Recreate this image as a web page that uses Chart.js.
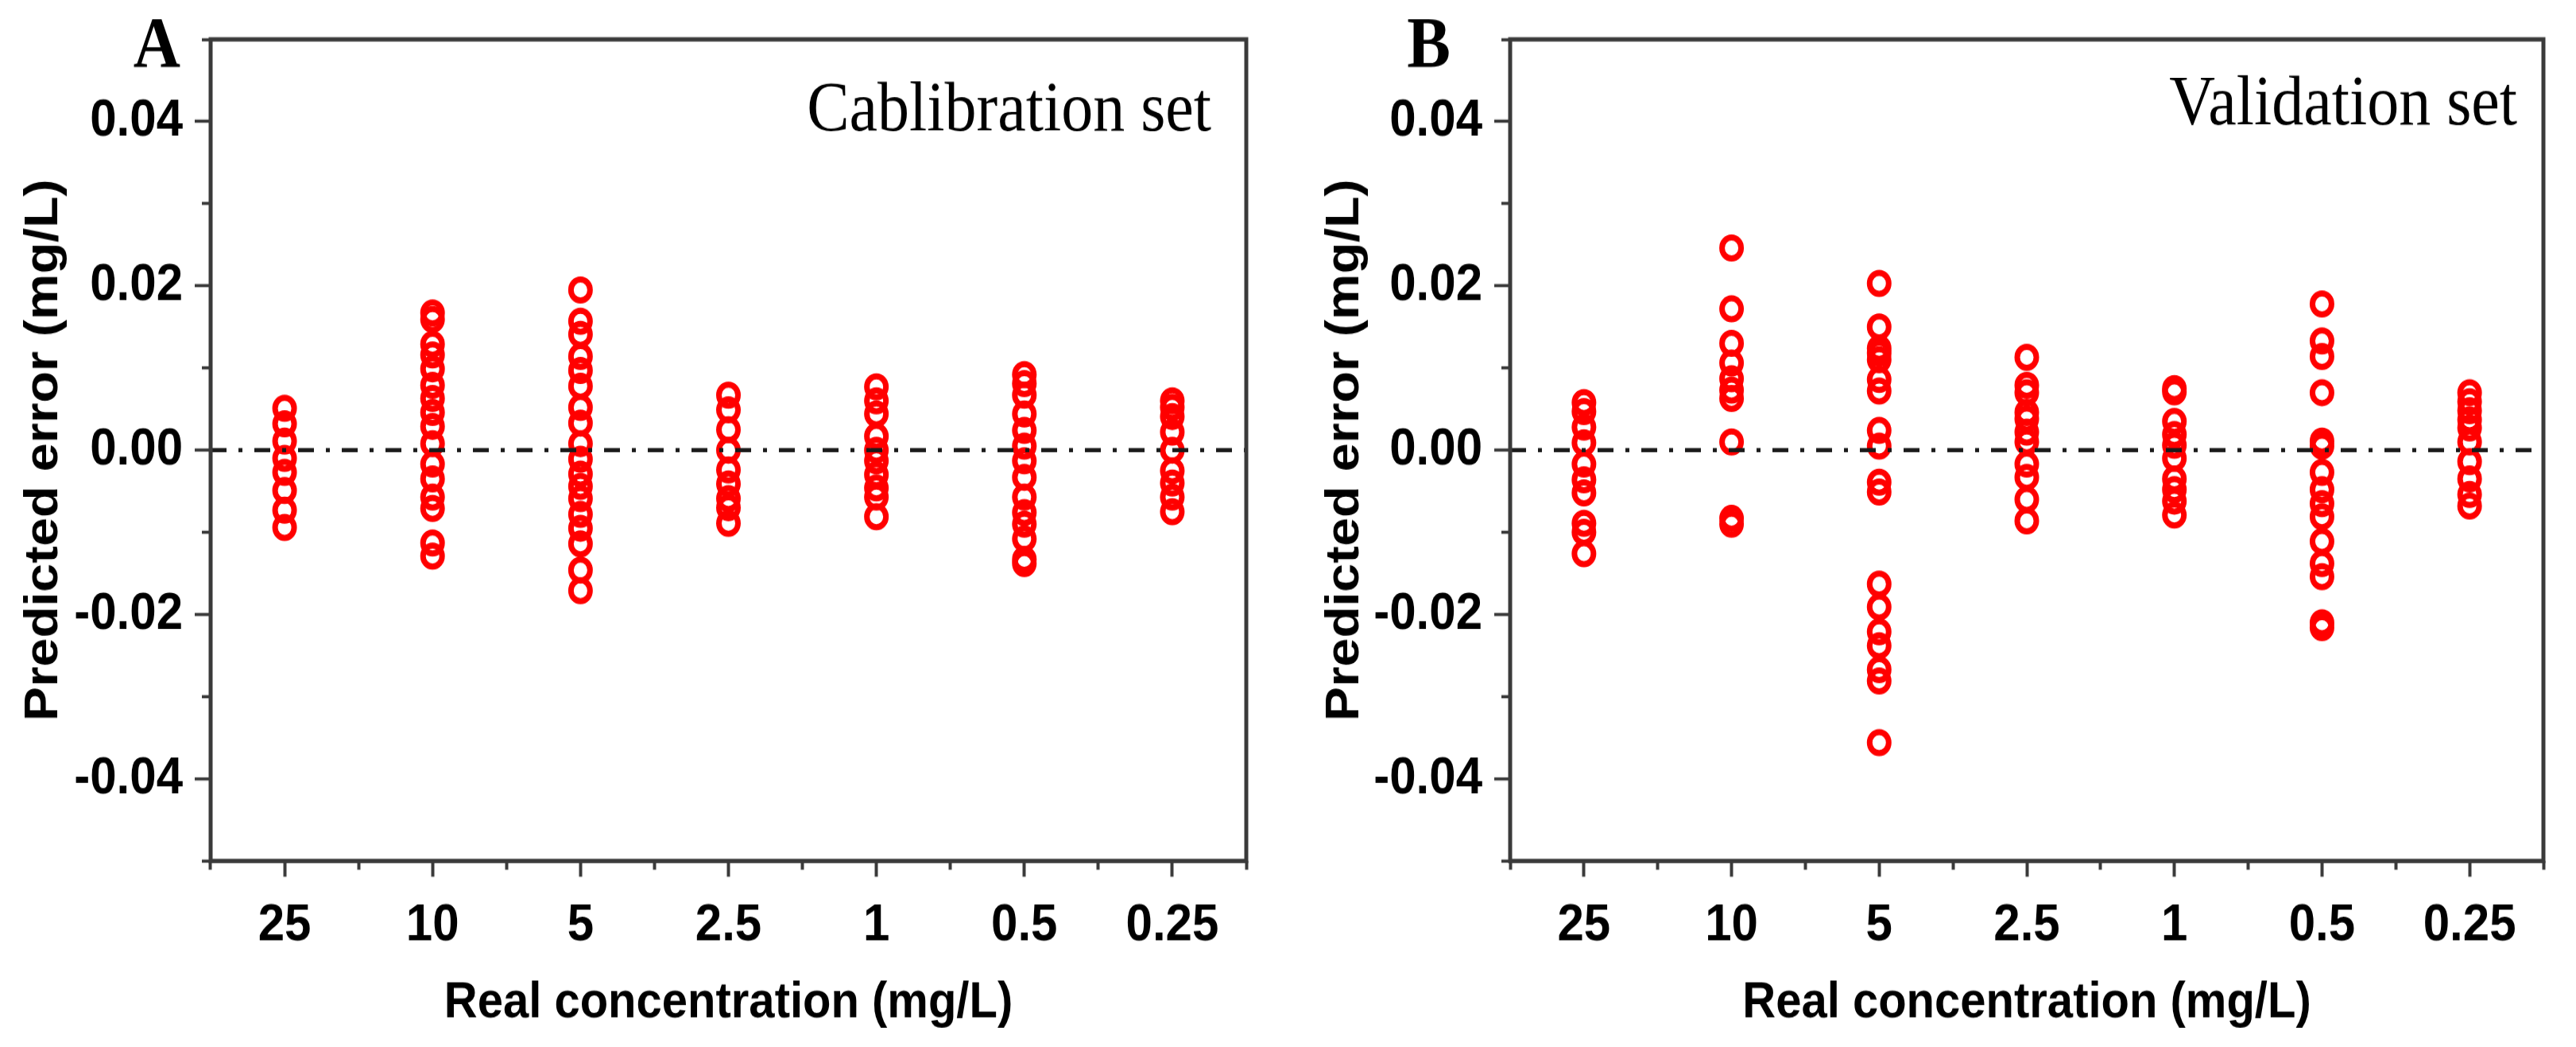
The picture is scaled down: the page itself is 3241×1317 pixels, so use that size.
<!DOCTYPE html>
<html>
<head>
<meta charset="utf-8">
<title>Predicted error vs real concentration</title>
<script src="https://cdn.jsdelivr.net/npm/chart.js@4.4.1/dist/chart.umd.min.js"></script>
<style>
  html, body { margin: 0; padding: 0; background: #fff; overflow: hidden; }
  /* the source figure is stretched vertically by about 10% */
  canvas { position: absolute; top: 0; transform: scaleY(1.10025); transform-origin: 0 0; }
</style>
</head>
<body>
<canvas id="chartA" width="1620" height="1197" style="left:0px"></canvas>
<canvas id="chartB" width="1621" height="1197" style="left:1620px"></canvas>
<script>
// categories on the x axis (mg/L)
const categories = ["25", "10", "5", "2.5", "1", "0.5", "0.25"];
const yMajorTicks = [-0.04, -0.02, 0, 0.02, 0.04];
const yMinorTicks = [-0.05, -0.03, -0.01, 0.01, 0.03, 0.05];

// A: calibration set, predicted error per concentration
const calib25 = [0.0051, 0.0032, 0.0011, -0.0010, -0.0027, -0.0049, -0.0073, -0.0094];
const calib10 = [0.0167, 0.0159, 0.0129, 0.0116, 0.0099, 0.0079, 0.0063, 0.0046, 0.0029, 0.0008, -0.0017, -0.0035, -0.0057, -0.0071, -0.0113, -0.0129];
const calib5 = [0.0195, 0.0157, 0.0141, 0.0114, 0.0097, 0.0078, 0.0052, 0.0033, 0.0008, -0.0011, -0.0029, -0.0044, -0.0059, -0.0078, -0.0095, -0.0114, -0.0146, -0.0171];
const calib2p5 = [0.0067, 0.0049, 0.0025, 0.0000, -0.0024, -0.0041, -0.0059, -0.0070, -0.0089];
const calib1 = [0.0077, 0.0060, 0.0044, 0.0017, 0.0000, -0.0013, -0.0030, -0.0046, -0.0057, -0.0081];
const calib0p5 = [0.0092, 0.0081, 0.0067, 0.0044, 0.0024, 0.0005, -0.0013, -0.0033, -0.0057, -0.0076, -0.0090, -0.0108, -0.0133, -0.0138];
const calib0p25 = [0.0060, 0.0052, 0.0041, 0.0022, 0.0000, -0.0025, -0.0040, -0.0057, -0.0075];

// B: validation set
const valid25 = [0.0058, 0.0047, 0.0028, 0.0009, -0.0017, -0.0036, -0.0052, -0.0089, -0.0100, -0.0126];
const valid10 = [0.0246, 0.0172, 0.0130, 0.0106, 0.0087, 0.0073, 0.0063, 0.0010, -0.0083, -0.0090];
const valid5 = [0.0203, 0.0150, 0.0124, 0.0118, 0.0110, 0.0086, 0.0072, 0.0024, 0.0005, -0.0039, -0.0051, -0.0163, -0.0191, -0.0221, -0.0238, -0.0267, -0.0281, -0.0356];
const valid2p5 = [0.0113, 0.0079, 0.0070, 0.0046, 0.0038, 0.0022, 0.0010, -0.0017, -0.0033, -0.0060, -0.0086];
const valid1 = [0.0075, 0.0071, 0.0035, 0.0019, 0.0006, -0.0010, -0.0035, -0.0048, -0.0062, -0.0079];
const valid0p5 = [0.0178, 0.0133, 0.0114, 0.0070, 0.0011, 0.0005, -0.0027, -0.0048, -0.0065, -0.0081, -0.0111, -0.0138, -0.0154, -0.0210, -0.0216];
const valid0p25 = [0.0070, 0.0059, 0.0048, 0.0037, 0.0027, 0.0010, -0.0014, -0.0035, -0.0054, -0.0068];

const calibGroups = [calib25, calib10, calib5, calib2p5, calib1, calib0p5, calib0p25];
const validGroups = [valid25, valid10, valid5, valid2p5, valid1, valid0p5, valid0p25];

const SANS = "'Liberation Sans', Arial, sans-serif";
const SERIF = "'Liberation Serif', 'Times New Roman', serif";
const frameColor = "#3a3a3a";

function toPoints(groups) {
    return groups.flatMap((vals, i) => vals.map(v => ({ x: categories[i], y: v })));
}

// zero line, frame and panel texts
const panelDecor = {
    id: "panelDecor",
    afterDatasetsDraw(chart) {
        const { ctx, chartArea: a, scales: { y } } = chart;
        const y0 = y.getPixelForValue(0);
        ctx.save();
        ctx.strokeStyle = "#1a1a1a";
        ctx.lineWidth = 4.6;
        ctx.setLineDash([20, 15, 5, 15]);
        ctx.beginPath();
        ctx.moveTo(a.left, y0);
        ctx.lineTo(a.right, y0);
        ctx.stroke();
        ctx.restore();
    },
    afterDraw(chart, args, opts) {
        const { ctx, chartArea: a } = chart;
        ctx.save();
        ctx.strokeStyle = frameColor;
        ctx.lineWidth = 5;
        ctx.strokeRect(a.left, a.top, a.right - a.left, a.bottom - a.top);

        ctx.fillStyle = "#000";
        ctx.textAlign = "right";
        ctx.textBaseline = "alphabetic";
        ctx.font = "bold 82px " + SERIF;
        ctx.fillText(opts.letter, opts.letterX, 75.5);
        ctx.font = "80px " + SERIF;
        ctx.fillText(opts.name, opts.nameX, opts.nameY);
        ctx.restore();
    }
};

function buildChart(id, groups, cfg) {
    const ctx = document.getElementById(id).getContext("2d");
    const tickFont = { family: SANS, size: 60, weight: "bold", lineHeight: 1 };
    return new Chart(ctx, {
        type: "scatter",
        data: {
            datasets: [{
                data: toPoints(groups),
                pointStyle: "circle",
                pointRadius: 12,
                pointBorderWidth: 7,
                pointBorderColor: "#ff0000",
                pointBackgroundColor: "rgba(0,0,0,0)",
                pointHoverRadius: 12
            }]
        },
        options: {
            responsive: false,
            animation: false,
            devicePixelRatio: 1,
            layout: { padding: { left: 0, top: 37.3, right: cfg.padRight, bottom: 0 } },
            plugins: {
                legend: { display: false },
                tooltip: { enabled: false },
                panelDecor: { letter: cfg.letter, letterX: cfg.letterX, name: cfg.name, nameX: cfg.nameX, nameY: cfg.nameY }
            },
            scales: {
                x: {
                    type: "category",
                    labels: categories,
                    offset: true,
                    position: "bottom",
                    weight: 1,
                    border: { display: false },
                    grid: { offset: false, drawOnChartArea: false, tickLength: 18, tickWidth: 4, tickColor: frameColor },
                    ticks: { color: "#000", font: tickFont, padding: 26, maxRotation: 0, autoSkip: false },
                    title: {
                        display: true,
                        text: "Real concentration (mg/L)",
                        color: "#000",
                        font: { family: SANS, size: 58, weight: "bold", lineHeight: 1 },
                        padding: { top: 0, bottom: 21 }
                    },
                    afterFit: s => { s.height = 212.7; }
                },
                xMinor: {
                    type: "category",
                    labels: categories,
                    offset: true,
                    position: "bottom",
                    weight: 0,
                    border: { display: false },
                    grid: { offset: true, drawOnChartArea: false, tickLength: 10, tickWidth: 4, tickColor: frameColor },
                    ticks: { display: false },
                    afterFit: s => { s.height = 0; }
                },
                y: {
                    type: "linear",
                    min: -0.05,
                    max: 0.05,
                    position: "left",
                    weight: 1,
                    border: { display: false },
                    grid: { drawOnChartArea: false, tickLength: 20, tickWidth: 3.6, tickColor: frameColor },
                    afterBuildTicks: s => { s.ticks = yMajorTicks.map(v => ({ value: v })); },
                    ticks: { color: "#000", font: tickFont, padding: 15, callback: v => v.toFixed(2) },
                    title: {
                        display: true,
                        text: "Predicted error (mg/L)",
                        color: "#000",
                        font: { family: SANS, size: 59, weight: "bold", lineHeight: 1 },
                        padding: { top: cfg.yTitlePad, bottom: 0 }
                    },
                    afterFit: s => { s.width = cfg.yAxisWidth; }
                },
                yMinor: {
                    type: "linear",
                    min: -0.05,
                    max: 0.05,
                    position: "left",
                    weight: 0,
                    border: { display: false },
                    grid: { drawOnChartArea: false, tickLength: 11, tickWidth: 3.6, tickColor: frameColor },
                    afterBuildTicks: s => { s.ticks = yMinorTicks.map(v => ({ value: v })); },
                    ticks: { display: false },
                    afterFit: s => { s.width = 0; }
                }
            }
        },
        plugins: [panelDecor]
    });
}

buildChart("chartA", calibGroups, {
    padRight: 52, yAxisWidth: 265, yTitlePad: 26.5,
    letter: "A", letterX: 227, name: "Cablibration set", nameX: 1524, nameY: 149
});
buildChart("chartB", validGroups, {
    padRight: 41, yAxisWidth: 280, yTitlePad: 43.5,
    letter: "B", letterX: 205, name: "Validation set", nameX: 1547, nameY: 142
});
</script>
</body>
</html>
